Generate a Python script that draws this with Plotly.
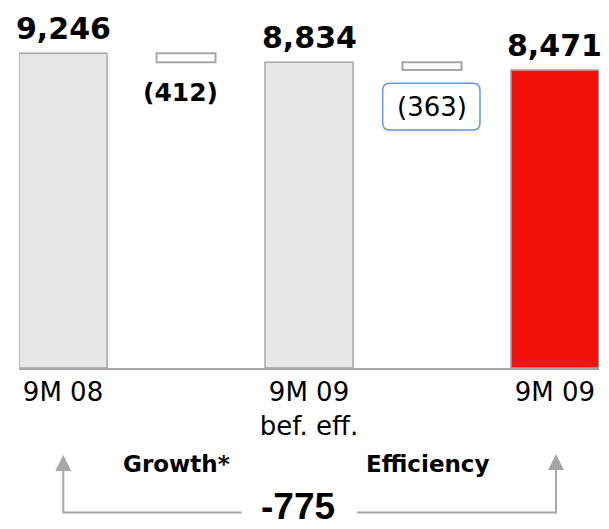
import plotly.graph_objects as go

# ---- data -------------------------------------------------------------
categories = ["9M 08", "Growth*", "9M 09<br>bef. eff.", "Efficiency", "9M 09"]
total_cats = ["9M 08", "9M 09<br>bef. eff.", "9M 09"]
total_values = [9246, 8834, 8471]
step_cats = ["Growth*", "Efficiency"]
step_changes = [-412, -363]
net_change = -775

# ---- figure geometry ----------------------------------------------------
W, H = 609, 529
ML, MR, MT, MB = 19, 10, 0, 161
PW, PH = W - ML - MR, H - MT - MB
Y_RANGE = [-5340, 11720]          # truncated value axis (bars start at floor)
X_RANGE = [-0.358, 4.358]

GREY_LINE = "#A6A6A6"
GREY_FILL = "#E7E7E7"
RED = "#F2120B"
BLUE = "#6495ED"
TXT = "#000000"


def xp(px):
    return (px - ML) / PW


def yp(py):
    return (H - MB - py) / PH


fig = go.Figure()

# totals: grey for the earlier periods, red for the current one
fig.add_trace(go.Bar(
    x=total_cats,
    y=[v - Y_RANGE[0] for v in total_values],
    base=Y_RANGE[0],
    width=0.716,
    marker=dict(color=[GREY_FILL, GREY_FILL, RED],
                line=dict(color=GREY_LINE, width=1.5)),
    hoverinfo="skip",
))

# floating step bars between the totals
step_base = [t + c for t, c in zip(total_values[:-1], step_changes)]
fig.add_trace(go.Bar(
    x=step_cats,
    y=[-c for c in step_changes],
    base=step_base,
    width=0.48,
    marker=dict(color="#FFFFFF", line=dict(color=GREY_LINE, width=2)),
    hoverinfo="skip",
))

annotations = []
# value labels above the totals
for cat, v in zip(total_cats, total_values):
    annotations.append(dict(
        x=cat, y=v, xref="x", yref="y", text=f"{v:,}", showarrow=False,
        yanchor="middle", yshift=25,
        font=dict(family="DejaVu Sans", size=30, color=TXT, weight="bold"),
    ))

# step labels under the floating bars
step_fonts = [dict(family="DejaVu Sans", size=25, color=TXT, weight="bold"),
              dict(family="DejaVu Sans", size=26, color=TXT)]
step_shift = [(-6, -30), (0, -37)]
for cat, b, c, f, (dx, dy) in zip(step_cats, step_base, step_changes, step_fonts, step_shift):
    annotations.append(dict(
        x=cat, y=b, xref="x", yref="y", text=f"({abs(c)})", showarrow=False,
        yanchor="middle", xshift=dx, yshift=dy, font=f,
    ))

# driver captions
for cat, dx in zip(step_cats, [-10, -4]):
    annotations.append(dict(
        x=cat, y=yp(464), xref="x", yref="paper", text=cat, showarrow=False,
        yanchor="middle", xshift=dx,
        font=dict(family="DejaVu Sans", size=23, color=TXT, weight="bold"),
    ))

# total change between the two 9M periods
annotations.append(dict(
    x=xp(298), y=yp(506), xref="paper", yref="paper", text=f"{net_change:,}",
    showarrow=False, yanchor="middle",
    font=dict(family="Liberation Sans", size=37, color=TXT, weight="bold"),
))

# connectors with arrowheads back up to the two 9M columns
shapes = [
    dict(type="path", xref="paper", yref="paper",
         path=f"M {xp(63.3)},{yp(470)} L {xp(63.3)},{yp(512.5)} L {xp(241.7)},{yp(512.5)}",
         line=dict(color=GREY_LINE, width=2)),
    dict(type="path", xref="paper", yref="paper",
         path=f"M {xp(357)},{yp(512.5)} L {xp(556)},{yp(512.5)} L {xp(556)},{yp(470)}",
         line=dict(color=GREY_LINE, width=2)),
    dict(type="path", xref="paper", yref="paper",
         path=f"M {xp(55.3)},{yp(471)} L {xp(63.3)},{yp(455)} L {xp(71.3)},{yp(471)} Z",
         fillcolor=GREY_LINE, line=dict(color=GREY_LINE, width=0)),
    dict(type="path", xref="paper", yref="paper",
         path=f"M {xp(548)},{yp(470)} L {xp(556)},{yp(454)} L {xp(564)},{yp(470)} Z",
         fillcolor=GREY_LINE, line=dict(color=GREY_LINE, width=0)),
]

# rounded highlight box around the efficiency step label
bx0, bx1, by0, by1, r = 382.7, 480.0, 83.3, 130.0, 7
box_path = (
    f"M {xp(bx0 + r)},{yp(by0)} L {xp(bx1 - r)},{yp(by0)} "
    f"Q {xp(bx1)},{yp(by0)} {xp(bx1)},{yp(by0 + r)} "
    f"L {xp(bx1)},{yp(by1 - r)} Q {xp(bx1)},{yp(by1)} {xp(bx1 - r)},{yp(by1)} "
    f"L {xp(bx0 + r)},{yp(by1)} Q {xp(bx0)},{yp(by1)} {xp(bx0)},{yp(by1 - r)} "
    f"L {xp(bx0)},{yp(by0 + r)} Q {xp(bx0)},{yp(by0)} {xp(bx0 + r)},{yp(by0)} Z"
)
shapes.append(dict(type="path", xref="paper", yref="paper", path=box_path,
                   line=dict(color=BLUE, width=1.5)))

fig.update_layout(
    width=W, height=H,
    margin=dict(l=ML, r=MR, t=MT, b=MB, pad=0),
    paper_bgcolor="#FFFFFF", plot_bgcolor="#FFFFFF",
    barmode="overlay", showlegend=False,
    xaxis=dict(type="category", categoryorder="array", categoryarray=categories,
               range=X_RANGE, showgrid=False, zeroline=False,
               showline=True, linecolor=GREY_LINE, linewidth=2,
               ticks="", tickvals=total_cats, ticktext=total_cats,
               tickfont=dict(family="DejaVu Sans", size=26, color=TXT)),
    yaxis=dict(range=Y_RANGE, visible=False, showgrid=False, zeroline=False),
    annotations=annotations,
    shapes=shapes,
)

fig.write_html("out.html")
